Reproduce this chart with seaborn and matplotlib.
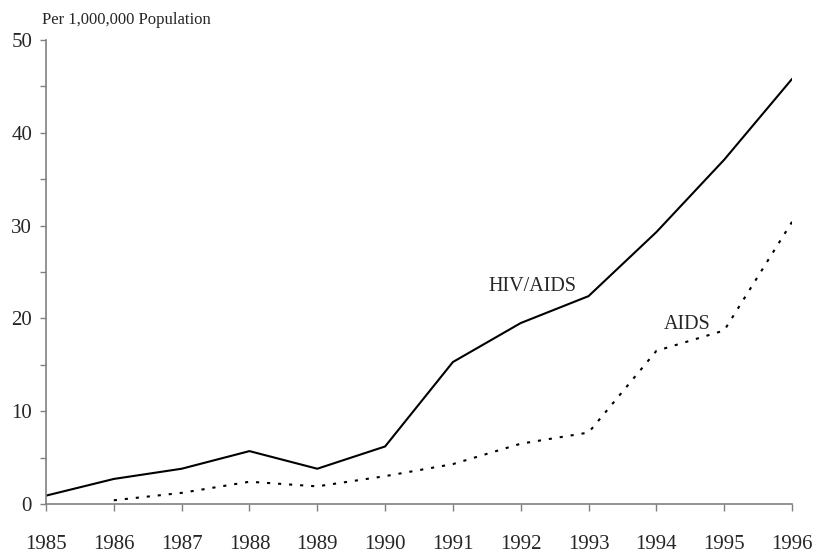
import matplotlib
matplotlib.use("Agg")
import matplotlib.pyplot as plt
import seaborn as sns
import pandas as pd
from matplotlib.ticker import MultipleLocator

# Data (cases per 1,000,000 population)
years = [1985, 1986, 1987, 1988, 1989, 1990, 1991, 1992, 1993, 1994, 1995, 1996]
hiv_aids = [0.9, 2.7, 3.8, 5.7, 3.8, 6.2, 15.3, 19.5, 22.4, 29.3, 37.1, 45.8]
aids_years = [1986, 1987, 1988, 1989, 1990, 1991, 1992, 1993, 1994, 1995, 1996]
aids = [0.4, 1.2, 2.4, 1.9, 3.0, 4.3, 6.5, 7.7, 16.5, 18.7, 30.4]

df_hiv = pd.DataFrame({"year": years, "rate": hiv_aids})
df_aids = pd.DataFrame({"year": aids_years, "rate": aids})

sns.set_style("white")
plt.rcParams["font.family"] = ["Liberation Serif", "DejaVu Serif"]

fig = plt.figure(figsize=(8.14, 5.53), dpi=100)
ax = fig.add_axes([0.0565, 0.0886, 0.9165, 0.8391])

sns.lineplot(data=df_hiv, x="year", y="rate", ax=ax, color="black", linewidth=1.5)
sns.lineplot(data=df_aids, x="year", y="rate", ax=ax, color="black", linewidth=1.5,
             linestyle=(0, (1.5, 3.8)))

ax.set_xlim(1985, 1996)
ax.set_ylim(0, 50)
ax.set_xticks(years)
ax.set_xticklabels([str(y) for y in years])
ax.yaxis.set_major_locator(MultipleLocator(10))
ax.yaxis.set_minor_locator(MultipleLocator(5))
ax.set_xlabel("")
ax.set_ylabel("")

for side in ["top", "right"]:
    ax.spines[side].set_visible(False)
for side in ["left", "bottom"]:
    ax.spines[side].set_color("#808080")
    ax.spines[side].set_linewidth(1.2)

ax.tick_params(axis="y", which="both", direction="out", length=4, width=1,
               color="#808080", labelsize=15, pad=6, left=True)
ax.tick_params(axis="x", which="major", direction="out", length=5, width=1,
               color="#808080", labelsize=15, pad=17, bottom=True)

ax.text(1991.52, 23.4, "HIV/AIDS", fontsize=14.5, va="center", ha="left")
ax.text(1994.11, 19.3, "AIDS", fontsize=14.5, va="center", ha="left")

fig.text(42 / 814, 1 - 20 / 553, "Per 1,000,000 Population", fontsize=12,
         va="center", ha="left")

fig.savefig("out.png", dpi=100)
